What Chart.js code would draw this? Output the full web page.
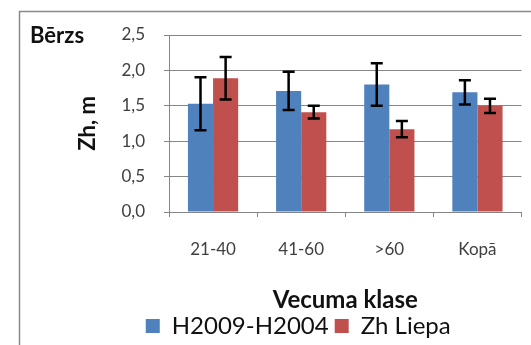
<!DOCTYPE html>
<html>
<head>
<meta charset="utf-8">
<script src="https://cdn.jsdelivr.net/npm/chart.js@4.4.0/dist/chart.umd.min.js"></script>
<style>
  html, body { margin: 0; padding: 0; background: #fff; }
  #wrap { width: 531px; height: 345px; position: relative; }
</style>
</head>
<body>
<div id="wrap"><canvas id="chart"></canvas></div>
<script>
"use strict";
var categories = ["21-40", "41-60", ">60", "Kopā"];
var seriesNames = ["H2009-H2004", "Zh Liepa"];
var heightDiff = [1.53, 1.71, 1.80, 1.69];
var heightLiepa = [1.89, 1.41, 1.17, 1.50];
var errDiff = [0.375, 0.27, 0.30, 0.17];
var errLiepa = [0.30, 0.09, 0.115, 0.10];
var yTicks = [0, 0.5, 1, 1.5, 2, 2.5];

var FONT = "Lato, 'Liberation Sans', sans-serif";

// chart frame + "Bērzs" label
var framePlugin = {
  id: "frame",
  beforeDraw: function (chart) {
    var ctx = chart.ctx;
    ctx.save();
    ctx.fillStyle = "#fff";
    ctx.fillRect(0, 0, chart.width, chart.height);
    ctx.strokeStyle = "#8a8a8a";
    ctx.lineWidth = 1.5;
    ctx.strokeRect(19.5, 11.5, chart.width + 20, chart.height + 20);
    ctx.fillStyle = "#111";
    ctx.font = "bold 22px " + FONT;
    ctx.textBaseline = "middle";
    ctx.fillText("Bērzs", 30, 36);
    ctx.restore();
  },
};

// error bars
var errorPlugin = {
  id: "errbars",
  afterDatasetsDraw: function (chart) {
    var ctx = chart.ctx;
    var y = chart.scales.y;
    ctx.save();
    ctx.strokeStyle = "#000";
    ctx.lineWidth = 2.5;
    chart.data.datasets.forEach(function (ds, i) {
      var meta = chart.getDatasetMeta(i);
      meta.data.forEach(function (bar, j) {
        var v = ds.data[j];
        var e = ds.errors[j];
        var top = y.getPixelForValue(v + e);
        var bot = y.getPixelForValue(v - e);
        var half = 6;
        ctx.beginPath();
        ctx.moveTo(bar.x, top);
        ctx.lineTo(bar.x, bot);
        ctx.moveTo(bar.x - half, top);
        ctx.lineTo(bar.x + half, top);
        ctx.moveTo(bar.x - half, bot);
        ctx.lineTo(bar.x + half, bot);
        ctx.stroke();
      });
    });
    ctx.restore();
  },
};

new Chart(document.getElementById("chart"), {
  type: "bar",
  data: {
    labels: categories,
    datasets: [
      {
        label: seriesNames[0],
        data: heightDiff,
        errors: errDiff,
        backgroundColor: "#4F81BD",
        categoryPercentage: 0.57,
        barPercentage: 1.0,
      },
      {
        label: seriesNames[1],
        data: heightLiepa,
        errors: errLiepa,
        backgroundColor: "#C0504D",
        categoryPercentage: 0.57,
        barPercentage: 1.0,
      },
    ],
  },
  plugins: [framePlugin, errorPlugin],
  options: {
    responsive: true,
    maintainAspectRatio: false,
    animation: false,
    devicePixelRatio: 1,
    layout: {
      padding: { left: 75, right: 9.5, top: 35, bottom: -3 },
    },
    plugins: {
      tooltip: { enabled: false },
      legend: {
        position: "bottom",
        labels: {
          boxWidth: 14,
          boxHeight: 14,
          padding: 6,
          color: "#111",
          font: { family: FONT, size: 24 },
        },
      },
    },
    scales: {
      x: {
        afterFit: function (scale) {
          scale.height = 96;
        },
        grid: {
          drawOnChartArea: false,
          tickLength: 5,
          color: "#868686",
        },
        border: { color: "#868686" },
        ticks: {
          padding: 22,
          color: "#404040",
          font: { family: FONT, size: 17 },
        },
        title: {
          display: true,
          text: "Vecuma klase",
          color: "#111",
          font: { family: FONT, size: 24, weight: "bold", lineHeight: 0.65 },
          padding: { top: 0, bottom: 0 },
        },
      },
      y: {
        min: 0,
        max: 2.5,
        afterBuildTicks: function (scale) {
          scale.ticks = yTicks.map(function (v) { return { value: v }; });
        },
        afterFit: function (scale) {
          scale.width = 169 - 75;
        },
        grid: {
          color: "#868686",
          tickLength: 5,
        },
        border: { color: "#868686" },
        ticks: {
          padding: 19,
          color: "#404040",
          font: { family: FONT, size: 17 },
          callback: function (v) { return v.toFixed(1).replace(".", ","); },
        },
        title: {
          display: true,
          text: "Zh, m",
          color: "#111",
          font: { family: FONT, size: 22, weight: "bold" },
          padding: { top: 0, bottom: 0 },
        },
      },
    },
  },
});
</script>
</body>
</html>
